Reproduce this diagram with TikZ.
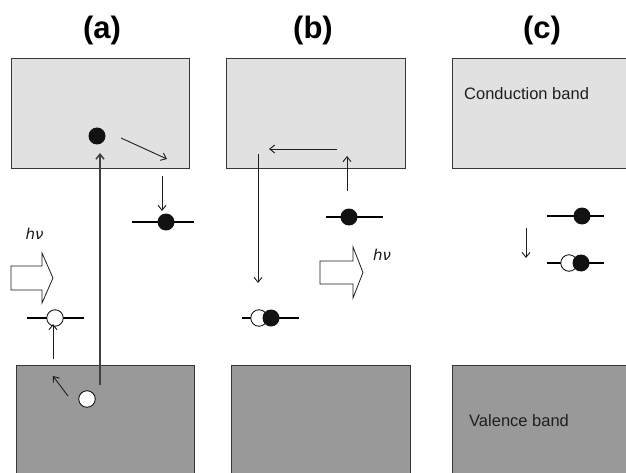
\documentclass[tikz,border=0pt]{standalone}
\usepackage{fontspec}
\setmainfont{Liberation Sans}
\newfontfamily\hvfont{DejaVu Sans}
\usetikzlibrary{arrows.meta}
\definecolor{cbfill}{RGB}{225,225,225}
\definecolor{vbfill}{RGB}{153,153,153}
\definecolor{edgegray}{RGB}{55,55,55}
\definecolor{inkgray}{RGB}{30,30,30}
\begin{document}
\begin{tikzpicture}[x=1pt,y=-1pt,
  cband/.style={draw=edgegray, fill=cbfill, line width=1pt, inner sep=0, outer sep=0, anchor=north west},
  vband/.style={draw=edgegray, fill=vbfill, line width=1pt, inner sep=0, outer sep=0, anchor=north west},
  level/.style={line width=2.8pt, black},
  elec/.style={circle, fill=black!93, minimum size=17pt, inner sep=0, outer sep=0},
  hole/.style={circle, draw=black, fill=white, line width=0.8pt, minimum size=16.5pt, inner sep=0, outer sep=0},
  trans/.style={-{Straight Barb[length=5pt,width=8pt]}, line width=0.9pt, inkgray},
  thicktrans/.style={-{Straight Barb[length=5pt,width=8pt]}, line width=1.5pt, black!75},
  photon/.style={draw=inkgray, fill=white, line width=0.8pt, line join=miter},
  title/.style={font=\bfseries\fontsize{31}{31}\selectfont, inner sep=0},
  bandtext/.style={text=black!88, inner sep=0, anchor=west},
  hvtext/.style={font=\hvfont\itshape\fontsize{15}{15}\selectfont, text=black!90, inner sep=0}
]
\clip (0,0) rectangle (626,473);
\fill[white] (0,0) rectangle (626,473);

% titles
\node[title] (ta) at (102,30) {(a)};
\node[title] (tb) at (313,30) {(b)};
\node[title] (tc) at (542,30) {(c)};

% ---------- panel (a) ----------
\node[cband, minimum width=178pt, minimum height=110pt] (cbA) at (11,59) {};
\node[vband, minimum width=178pt, minimum height=120pt] (vbA) at (16,365) {};
\node[elec] (eA1) at (97,136) {};
\coordinate (a1s) at (121,138); \coordinate (a1e) at (167,159);
\draw[trans] (a1s) -- (a1e);
\coordinate (a2s) at (162,176); \coordinate (a2e) at (162,211);
\draw[trans] (a2s) -- (a2e);
\coordinate (lA1l) at (132,222); \coordinate (lA1r) at (194,222);
\draw[level] (lA1l) -- (lA1r);
\node[elec] (eA2) at (166,222) {};
\node[hvtext] (hvA) at (34.5,234) {hν};
\path[photon] (11,266) -- (42,266) -- (42,253) -- (53,278) -- (42,303) -- (42,290) -- (11,290) -- cycle;
\coordinate (lA2l) at (27,318); \coordinate (lA2r) at (84,318);
\draw[level] (lA2l) -- (lA2r);
\node[hole] (hA1) at (55,318) {};
\coordinate (a3s) at (53,359); \coordinate (a3e) at (53,324);
\draw[trans] (a3s) -- (a3e);
\node[hole] (hA2) at (87,399) {};
\coordinate (a4s) at (68,396); \coordinate (a4e) at (53,376);
\draw[trans] (a4s) -- (a4e);
\coordinate (a5s) at (100,385); \coordinate (a5e) at (100,153);
\draw[thicktrans] (a5s) -- (a5e);

% ---------- panel (b) ----------
\node[cband, minimum width=179pt, minimum height=110pt] (cbB) at (226,59) {};
\node[vband, minimum width=179pt, minimum height=120pt] (vbB) at (231,365) {};
\coordinate (b1s) at (337,149); \coordinate (b1e) at (269,149);
\draw[trans] (b1s) -- (b1e);
\coordinate (b2s) at (258,154); \coordinate (b2e) at (258,283);
\draw[trans] (b2s) -- (b2e);
\coordinate (b3s) at (347,191); \coordinate (b3e) at (347,156);
\draw[trans] (b3s) -- (b3e);
\coordinate (lB1l) at (326,217); \coordinate (lB1r) at (383,217);
\draw[level] (lB1l) -- (lB1r);
\node[elec] (eB1) at (349,217) {};
\path[photon] (320,261) -- (353,261) -- (353,247) -- (363,272.5) -- (353,298) -- (353,284) -- (320,284) -- cycle;
\node[hvtext] (hvB) at (382,255) {hν};
\coordinate (lB2l) at (242,318); \coordinate (lB2r) at (299,318);
\draw[level] (lB2l) -- (lB2r);
\node[hole] (hB) at (259,318) {};
\node[elec] (eB2) at (271,318) {};

% ---------- panel (c) ----------
\node[cband, minimum width=190pt, minimum height=110pt] (cbC) at (452,59) {};
\node[bandtext, font=\fontsize{16.5}{16.5}\selectfont] (cbt) at (464,94) {Conduction band};
\node[vband, minimum width=190pt, minimum height=120pt] (vbC) at (452,365) {};
\node[bandtext, font=\fontsize{16.5}{16.5}\selectfont] (vbt) at (469,421) {Valence band};
\coordinate (lC1l) at (547,216); \coordinate (lC1r) at (604,216);
\draw[level] (lC1l) -- (lC1r);
\node[elec] (eC1) at (582,216) {};
\coordinate (c1s) at (526,228); \coordinate (c1e) at (526,258);
\draw[trans] (c1s) -- (c1e);
\coordinate (lC2l) at (547,263); \coordinate (lC2r) at (604,263);
\draw[level] (lC2l) -- (lC2r);
\node[hole] (hC) at (569,263) {};
\node[elec] (eC2) at (581,263) {};
\end{tikzpicture}
\end{document}
